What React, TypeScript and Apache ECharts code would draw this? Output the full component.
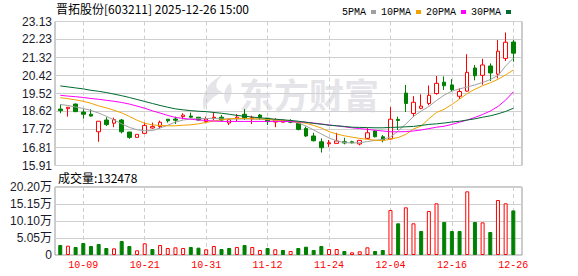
import React, { useEffect, useRef } from 'react';
import * as echarts from 'echarts';

const stockTitle = '晋拓股份[603211] 2025-12-26 15:00';
const volumeTitle = '成交量';

const dates = [
  '09-26', '09-29', '09-30', '10-09', '10-10', '10-13', '10-14', '10-15', '10-16', '10-17',
  '10-20', '10-21', '10-22', '10-23', '10-24', '10-27', '10-28', '10-29', '10-30', '10-31',
  '11-03', '11-04', '11-05', '11-06', '11-07', '11-10', '11-11', '11-12', '11-13', '11-14',
  '11-17', '11-18', '11-19', '11-20', '11-21', '11-24', '11-25', '11-26', '11-27', '11-28',
  '12-01', '12-02', '12-03', '12-04', '12-05', '12-08', '12-09', '12-10', '12-11', '12-12',
  '12-15', '12-16', '12-17', '12-18', '12-19', '12-22', '12-23', '12-24', '12-25', '12-26',
];
const labeledDates = ['10-09', '10-21', '10-31', '11-12', '11-24', '12-04', '12-16', '12-26'];

const opens = [
  18.74, 18.76, 18.99, 18.59, 18.48, 17.60, 18.19, 18.03, 18.19, 17.59,
  17.32, 17.52, 17.79, 17.86, 18.23, 18.24, 18.36, 18.39, 18.33, 18.11,
  18.29, 18.33, 18.04, 18.26, 18.48, 18.24, 18.44, 18.28, 18.09, 18.08,
  18.16, 18.04, 17.77, 17.39, 17.10, 17.00, 17.02, 17.10, 17.10, 16.99,
  17.27, 17.64, 17.35, 17.24, 18.22, 19.54, 18.52, 18.78, 19.02, 19.52,
  20.09, 19.95, 19.38, 19.64, 20.80, 20.43, 20.90, 20.49, 21.28, 22.10,
];
const closes = [
  18.66, 18.83, 18.61, 18.48, 18.39, 18.13, 17.96, 18.21, 17.60, 17.32,
  17.47, 17.92, 17.86, 18.08, 18.15, 18.18, 18.44, 18.33, 18.19, 18.24,
  18.33, 18.19, 18.21, 18.33, 18.28, 18.31, 18.32, 18.11, 18.19, 18.19,
  18.08, 17.72, 17.39, 17.15, 16.80, 17.05, 17.14, 17.04, 17.05, 17.17,
  17.55, 17.35, 17.19, 18.23, 18.17, 19.02, 19.08, 18.89, 19.43, 20.03,
  19.91, 19.71, 19.62, 20.58, 20.41, 20.95, 20.55, 21.64, 22.09, 21.54,
];
const lows = [
  18.53, 18.36, 18.59, 18.26, 18.36, 17.10, 17.89, 17.83, 17.52, 17.25,
  17.32, 17.49, 17.75, 17.76, 18.06, 17.99, 18.23, 18.28, 18.16, 18.03,
  18.16, 18.11, 17.94, 18.11, 18.19, 17.99, 18.19, 17.94, 17.83, 18.08,
  18.03, 17.67, 17.34, 17.12, 16.56, 16.84, 17.02, 16.97, 17.02, 16.92,
  17.22, 17.32, 17.07, 17.22, 17.69, 18.59, 18.34, 18.73, 18.93, 19.46,
  19.70, 19.61, 19.24, 19.61, 20.18, 19.96, 20.15, 20.28, 21.15, 21.11,
];
const highs = [
  18.98, 18.84, 19.02, 18.73, 18.73, 18.13, 18.33, 18.31, 18.24, 17.59,
  17.47, 18.06, 18.06, 18.16, 18.23, 18.36, 18.53, 18.56, 18.34, 18.36,
  18.58, 18.44, 18.28, 18.49, 18.74, 18.41, 18.49, 18.29, 18.28, 18.19,
  18.23, 18.09, 17.86, 17.55, 17.27, 17.19, 17.55, 17.30, 17.15, 17.19,
  17.80, 17.69, 17.44, 18.84, 18.36, 19.95, 19.39, 19.48, 19.92, 20.40,
  20.38, 20.24, 19.78, 21.49, 20.95, 21.26, 21.03, 22.20, 22.58, 22.20,
];
const volumes = [
  29700, 27700, 23800, 35600, 26700, 32700, 20800, 19800, 41600, 26700,
  13900, 34700, 17800, 29700, 20800, 22800, 20800, 23800, 21800, 16900,
  26700, 17800, 20800, 23800, 29700, 23800, 14900, 20800, 16900, 14900,
  11900, 20800, 24700, 14900, 26700, 17800, 17800, 11900, 8000, 11000,
  22800, 11900, 14900, 133700, 94100, 141600, 94100, 71300, 130700, 153500,
  98000, 71300, 71300, 189100, 98000, 97000, 68300, 163400, 153500, 132478,
];
// 1 = rising day (red hollow bar), 0 = falling day (green bar)
const volumeUp = [
  0, 1, 0, 0, 0, 0, 0, 1, 0, 0,
  1, 1, 0, 1, 1, 1, 1, 0, 0, 1,
  1, 0, 0, 1, 0, 1, 1, 0, 1, 0,
  1, 0, 0, 0, 0, 1, 1, 0, 1, 1,
  1, 0, 0, 1, 0, 1, 1, 0, 1, 1,
  0, 0, 0, 1, 0, 1, 0, 1, 1, 0,
];
const ma5 = [
  18.97, 18.92, 18.84, 18.77, 18.67, 18.54, 18.38, 18.19, 18.00, 17.82,
  17.70, 17.65, 17.66, 17.79, 17.93, 18.09, 18.19, 18.24, 18.26, 18.27,
  18.27, 18.25, 18.24, 18.24, 18.24, 18.24, 18.23, 18.21, 18.19, 18.17,
  18.12, 18.04, 17.89, 17.69, 17.49, 17.29, 17.15, 17.06, 17.04, 17.05,
  17.11, 17.17, 17.22, 17.34, 17.64, 17.99, 18.37, 18.64, 18.87, 19.17,
  19.44, 19.64, 19.75, 19.85, 19.95, 20.07, 20.22, 20.42, 20.90, 21.29,
];
const ma10 = [
  19.31, 19.26, 19.20, 19.13, 19.03, 18.90, 18.80, 18.68, 18.55, 18.37,
  18.18, 18.03, 17.94, 17.92, 17.90, 17.90, 17.93, 17.95, 18.00, 18.07,
  18.14, 18.20, 18.25, 18.27, 18.27, 18.26, 18.24, 18.22, 18.19, 18.17,
  18.13, 18.08, 18.03, 17.92, 17.79, 17.61, 17.49, 17.40, 17.33, 17.27,
  17.22, 17.18, 17.15, 17.24, 17.31, 17.47, 17.74, 17.89, 18.25, 18.57,
  18.73, 18.97, 19.24, 19.52, 19.73, 19.91, 20.06, 20.23, 20.45, 20.70,
];
const ma20 = [
  19.43, 19.39, 19.36, 19.32, 19.27, 19.23, 19.18, 19.13, 19.07, 18.99,
  18.89, 18.78, 18.65, 18.54, 18.42, 18.32, 18.27, 18.23, 18.19, 18.17,
  18.14, 18.12, 18.12, 18.12, 18.12, 18.12, 18.12, 18.12, 18.12, 18.12,
  18.11, 18.10, 18.08, 18.04, 17.99, 17.94, 17.90, 17.85, 17.80, 17.76,
  17.72, 17.68, 17.64, 17.60, 17.60, 17.61, 17.64, 17.69, 17.76, 17.83,
  17.88, 17.97, 18.08, 18.19, 18.32, 18.47, 18.64, 18.87, 19.19, 19.60,
];
const ma30 = [
  19.90, 19.85, 19.80, 19.75, 19.68, 19.63, 19.57, 19.49, 19.41, 19.32,
  19.22, 19.12, 19.02, 18.92, 18.83, 18.75, 18.70, 18.66, 18.63, 18.61,
  18.57, 18.53, 18.48, 18.42, 18.38, 18.34, 18.30, 18.27, 18.23, 18.20,
  18.17, 18.13, 18.08, 18.02, 17.98, 17.93, 17.90, 17.87, 17.83, 17.82,
  17.81, 17.80, 17.80, 17.82, 17.83, 17.85, 17.87, 17.92, 17.97, 18.00,
  18.04, 18.09, 18.13, 18.19, 18.25, 18.33, 18.40, 18.50, 18.62, 18.78,
];

const priceTicks = [15.91, 16.81, 17.72, 18.62, 19.52, 20.42, 21.32, 22.23, 23.13];
const priceTickLabels = ['15.91', '16.81', '17.72', '18.62', '19.52', '20.42', '21.32', '22.23', '23.13'];
const volumeTicks = [0, 50500, 101000, 151500, 202000];
const volumeTickLabels = ['0', '5.05万', '10.10万', '15.15万', '20.20万'];

const maNames = ['5PMA', '10PMA', '20PMA', '30PMA'];
const maColors = ['#a0a0a0', '#f2a100', '#ff00ff', '#006a30'];

const RED = '#ff0000';
const GREEN = '#008000';
const GRID_LINE = '#cfcfcf';
const FRAME = '#999999';
const LABEL_FONT = '"Liberation Sans", "Noto Sans CJK SC", sans-serif';

const LOGO_PATH =
  'M24 0 C10 6 1 18 5 36 C8 27 14 21 24 17 C15 15 15 7 24 0 Z M31 8 C25 14 23 22 28 29 C33 22 34 14 31 8 Z';

let logoRegistered = false;

export default function App() {
  const ref = useRef<HTMLDivElement>(null);

  useEffect(() => {
    if (!ref.current) return;
    if (!logoRegistered) {
      echarts.graphic.registerShape('logo', echarts.graphic.extendPath(LOGO_PATH, {}));
      logoRegistered = true;
    }
    const chart = echarts.init(ref.current, null, { renderer: 'svg' });

    const frameLeft = 55;
    const frameWidth = 467;
    const dataLeft = 60.26;
    const dataWidth = 453.06;
    const priceTop = 21.5;
    const priceHeight = 144;
    const volTop = 187;
    const volHeight = 68;

    const showDate = (_i: number, v: string) => labeledDates.indexOf(v) >= 0;

    const candleData = dates.map((_, i) => [opens[i], closes[i], lows[i], highs[i]]);
    const volData = volumes.map((v, i) => ({
      value: v,
      itemStyle: volumeUp[i]
        ? { color: '#ffffff', borderColor: RED, borderWidth: 1 }
        : { color: GREEN, borderColor: GREEN, borderWidth: 1 },
    }));
    const maData = [ma5, ma10, ma20, ma30];

    const hiddenValueX = (gridIndex: number) => ({
      type: 'value',
      gridIndex,
      min: 0,
      max: 1,
      show: false,
    });
    const dateAxis = (gridIndex: number, labels: boolean) => ({
      type: 'category',
      gridIndex,
      data: dates,
      boundaryGap: false,
      axisLine: { show: false },
      axisTick: { show: false },
      axisLabel: labels
        ? {
            show: true,
            interval: showDate,
            color: RED,
            fontFamily: '"Liberation Mono", monospace',
            fontSize: 10,
            margin: 5,
          }
        : { show: false },
      splitLine: {
        show: true,
        interval: showDate,
        lineStyle: { color: GRID_LINE, type: [4, 3], width: 1 },
      },
    });

    chart.setOption({
      animation: false,
      backgroundColor: '#ffffff',
      legend: {
        data: maNames,
        left: 337,
        top: 2,
        align: 'right',
        icon: 'rect',
        itemWidth: 5,
        itemHeight: 4,
        itemGap: 5,
        selectedMode: false,
        textStyle: { fontFamily: '"Liberation Mono", monospace', fontSize: 10, color: '#000' },
      },
      grid: [
        { left: frameLeft, top: priceTop, width: frameWidth, height: priceHeight, show: true, borderColor: FRAME, borderWidth: 1, backgroundColor: 'transparent' },
        { left: dataLeft, top: priceTop, width: dataWidth, height: priceHeight },
        { left: frameLeft, top: volTop, width: frameWidth, height: volHeight, show: true, borderColor: FRAME, borderWidth: 1, backgroundColor: 'transparent' },
        { left: dataLeft, top: volTop, width: dataWidth, height: volHeight },
      ],
      xAxis: [hiddenValueX(0), dateAxis(1, false), hiddenValueX(2), dateAxis(3, true)],
      yAxis: [
        {
          type: 'value',
          gridIndex: 0,
          min: priceTicks[0],
          max: priceTicks[priceTicks.length - 1],
          axisLine: { show: false },
          axisTick: { show: false, customValues: priceTicks },
          axisLabel: {
            customValues: priceTicks,
            formatter: (v: number) => priceTickLabels[priceTicks.indexOf(v)] ?? '',
            color: '#1a1a2a',
            fontFamily: LABEL_FONT,
            fontSize: 12,
            margin: 3,
          },
          splitLine: { show: true, lineStyle: { color: GRID_LINE, width: 1 } },
        },
        {
          type: 'value',
          gridIndex: 1,
          min: priceTicks[0],
          max: priceTicks[priceTicks.length - 1],
          show: false,
          splitLine: { show: false },
        },
        {
          type: 'value',
          gridIndex: 2,
          min: volumeTicks[0],
          max: volumeTicks[volumeTicks.length - 1],
          axisLine: { show: false },
          axisTick: { show: false, customValues: volumeTicks },
          axisLabel: {
            customValues: volumeTicks,
            formatter: (v: number) => volumeTickLabels[volumeTicks.indexOf(v)] ?? '',
            color: '#1a1a2a',
            fontFamily: LABEL_FONT,
            fontSize: 12,
            margin: 3,
          },
          splitLine: { show: true, lineStyle: { color: GRID_LINE, width: 1 } },
        },
        {
          type: 'value',
          gridIndex: 3,
          min: volumeTicks[0],
          max: volumeTicks[volumeTicks.length - 1],
          show: false,
          splitLine: { show: false },
        },
      ],
      graphic: [
        {
          type: 'logo',
          x: 199,
          y: 75,
          z: -10,
          silent: true,
          style: { fill: '#e5e5e9' },
        },
        {
          type: 'text',
          x: 239,
          y: 93,
          z: -10,
          silent: true,
          style: {
            text: '东方财富',
            fill: '#e5e5e9',
            font: 'bold 35px "Noto Sans CJK SC"',
            verticalAlign: 'middle',
          },
        },
        {
          type: 'text',
          x: 56,
          y: 8,
          style: {
            text: stockTitle,
            fill: '#000',
            font: '12px "Noto Sans CJK SC"',
            verticalAlign: 'middle',
          },
        },
        {
          type: 'text',
          x: 58,
          y: 177.5,
          style: {
            text: volumeTitle + ':' + volumes[volumes.length - 1],
            fill: '#000',
            font: '12px "Noto Sans CJK SC"',
            verticalAlign: 'middle',
          },
        },
      ],
      series: [
        {
          type: 'candlestick',
          name: 'K',
          xAxisIndex: 1,
          yAxisIndex: 1,
          data: candleData,
          barWidth: 4,
          clip: false,
          silent: true,
          itemStyle: {
            color: '#ffffff',
            color0: GREEN,
            borderColor: RED,
            borderColor0: GREEN,
            borderWidth: 1,
          },
        },
        ...maNames.map((name, k) => ({
          type: 'line',
          name,
          xAxisIndex: 1,
          yAxisIndex: 1,
          data: maData[k],
          symbol: 'none',
          silent: true,
          color: maColors[k],
          lineStyle: { width: 1, color: maColors[k] },
          z: 3,
        })),
        {
          type: 'bar',
          name: 'VOL',
          xAxisIndex: 3,
          yAxisIndex: 3,
          data: volData,
          barWidth: 4,
          clip: false,
          silent: true,
        },
      ],
    });

    return () => {
      chart.dispose();
    };
  }, []);

  return (
    <div
      ref={ref}
      style={{ position: 'fixed', left: 0, top: 0, width: 578, height: 276, background: '#fff' }}
    />
  );
}
